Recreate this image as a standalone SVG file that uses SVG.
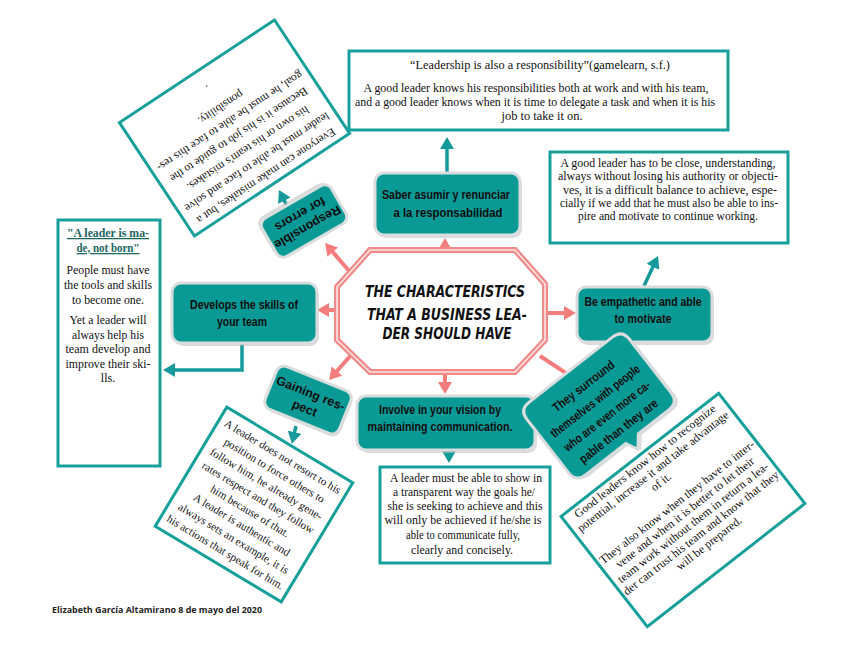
<svg xmlns="http://www.w3.org/2000/svg" width="848" height="655" viewBox="0 0 848 655">
<style>
.box{fill:#fff;stroke:#17a09b;stroke-width:3}
.node{fill:#0a9a96;stroke:#d9dddd;stroke-width:3}
.shd{fill:#bdbdbd;opacity:.55}
.s{font-family:"Liberation Serif","Times New Roman",serif;fill:#111;text-anchor:middle}
.n{font-family:"Liberation Sans",Arial,sans-serif;font-weight:bold;fill:#0d0d0d;text-anchor:middle;font-size:12.5px}
.pk{stroke:#f47c7c;stroke-width:4;fill:none}
.tl{stroke:#16999a;stroke-width:3.5;fill:none}
.oct1{fill:#fff;stroke:#f28a8a;stroke-width:6}
.oct2{fill:none;stroke:#fde4e4;stroke-width:1.6}
.ctr{font-family:"DejaVu Sans Condensed","DejaVu Sans",sans-serif;font-weight:bold;font-style:italic;font-size:15px;fill:#111;text-anchor:middle}
</style>
<defs>
<marker id="pa" markerUnits="userSpaceOnUse" viewBox="0 0 12 14" refX="8" refY="7" markerWidth="12" markerHeight="14" orient="auto"><path d="M0,0L12,7L0,14z" fill="#f47c7c"/></marker>
<marker id="ta" markerUnits="userSpaceOnUse" viewBox="0 0 12 14" refX="7" refY="7" markerWidth="12" markerHeight="14" orient="auto"><path d="M0,0L12,7L0,14z" fill="#16999a"/></marker>
</defs>
<rect width="848" height="655" fill="#fff"/>

<g id="connectors">
<path class="pk" d="M445,250L445,242" marker-end="url(#pa)"/>
<path class="pk" d="M350,272L327.6,246" marker-end="url(#pa)"/>
<path class="pk" d="M337,310L321,310" marker-end="url(#pa)"/>
<path class="pk" d="M352,354L331.7,377" marker-end="url(#pa)"/>
<path class="pk" d="M445,372L445,390" marker-end="url(#pa)"/>
<path class="pk" d="M545,313L572,313" marker-end="url(#pa)"/>
<path class="pk" d="M540,356L574.7,378.8" marker-end="url(#pa)"/>
<path class="tl" d="M447,172L447,142" marker-end="url(#ta)"/>
<path class="tl" d="M287,206L281.2,194.5" marker-end="url(#ta)"/>
<path class="tl" d="M242,344L242,370L168,370" marker-end="url(#ta)"/>
<path class="tl" d="M644,286L655.9,260.5" marker-end="url(#ta)"/>
<path class="tl" d="M296,426L293,439" marker-end="url(#ta)"/>
<path class="tl" d="M449,451L449,458" marker-end="url(#ta)"/>
</g>

<g id="center">
<polygon class="oct1" points="370,250 515,250 545,284 545,340 515,372 370,372 337,340 337,287"/>
<polygon class="oct2" points="370,250 515,250 545,284 545,340 515,372 370,372 337,340 337,287"/>
<text class="ctr" x="445" y="297" textLength="160" lengthAdjust="spacingAndGlyphs">THE CHARACTERISTICS</text>
<text class="ctr" x="447" y="320" textLength="160" lengthAdjust="spacingAndGlyphs">THAT A BUSINESS LEA-</text>
<text class="ctr" x="447" y="339" textLength="129" lengthAdjust="spacingAndGlyphs">DER SHOULD HAVE</text>
</g>

<g id="n-saber">
<rect class="shd" x="377" y="176" width="145" height="62" rx="9"/>
<rect class="node" x="375" y="173" width="145" height="62" rx="9"/>
<text class="n" x="446" y="199" textLength="128" lengthAdjust="spacingAndGlyphs">Saber asumir y renunciar</text>
<text class="n" x="448" y="217" textLength="109" lengthAdjust="spacingAndGlyphs">a la responsabilidad</text>
</g>

<g id="n-develops">
<rect class="shd" x="174" y="286" width="145" height="60" rx="9"/>
<rect class="node" x="172" y="283" width="145" height="60" rx="9"/>
<text class="n" x="244" y="309" textLength="108" lengthAdjust="spacingAndGlyphs">Develops the skills of</text>
<text class="n" x="242" y="326" textLength="50" lengthAdjust="spacingAndGlyphs">your team</text>
</g>

<g id="n-empathetic">
<rect class="shd" x="579" y="290" width="135" height="55" rx="9"/>
<rect class="node" x="577" y="287" width="135" height="55" rx="9"/>
<text class="n" x="643" y="306" textLength="117" lengthAdjust="spacingAndGlyphs">Be empathetic and able</text>
<text class="n" x="643" y="323" textLength="57" lengthAdjust="spacingAndGlyphs">to motivate</text>
</g>

<g id="n-involve">
<rect class="shd" x="359" y="399" width="178" height="54" rx="9"/>
<rect class="node" x="357" y="396" width="178" height="54" rx="9"/>
<text class="n" x="440" y="414" textLength="122" lengthAdjust="spacingAndGlyphs">Involve in your vision by</text>
<text class="n" x="440" y="431" textLength="145" lengthAdjust="spacingAndGlyphs">maintaining communication.</text>
</g>

<g id="n-responsible" transform="translate(304,221) rotate(150)">
<rect class="shd" x="-38" y="-19" width="80" height="44" rx="8"/>
<rect class="node" x="-40" y="-22" width="80" height="44" rx="8"/>
<text class="n" x="0" y="-3" font-size="12">Responsible</text>
<text class="n" x="0" y="12" font-size="12">for errors</text>
</g>

<g id="n-gaining" transform="translate(308,400) rotate(22)">
<rect class="shd" x="-38" y="-21" width="80" height="46" rx="8"/>
<rect class="node" x="-40" y="-23" width="80" height="46" rx="8"/>
<text class="n" x="0" y="-3" font-size="12">Gaining res-</text>
<text class="n" x="0" y="13" font-size="12">pect</text>
</g>

<g id="n-surround" transform="translate(599,406) rotate(-38)">
<path class="shd" transform="translate(2,3)" d="M-53,-46H53Q65,-46 65,-34V34Q65,46 53,46H14L4,58L-2,46H-53Q-65,46 -65,34V-34Q-65,-46 -53,-46Z"/>
<path class="node" d="M-53,-46H53Q65,-46 65,-34V34Q65,46 53,46H14L4,58L-2,46H-53Q-65,46 -65,34V-34Q-65,-46 -53,-46Z"/>
<text class="n" x="0" y="-21" font-size="12" textLength="75" lengthAdjust="spacingAndGlyphs">They surround</text>
<text class="n" x="0" y="-2" font-size="12" textLength="110" lengthAdjust="spacingAndGlyphs">themselves with people</text>
<text class="n" x="0" y="17" font-size="12" textLength="106" lengthAdjust="spacingAndGlyphs">who are even more ca-</text>
<text class="n" x="0" y="36" font-size="12" textLength="96" lengthAdjust="spacingAndGlyphs">pable than they are</text>
</g>

<g id="b-top">
<rect class="box" x="349" y="51" width="379" height="79"/>
<text class="s" font-size="12" x="540" y="69" textLength="260" lengthAdjust="spacingAndGlyphs">“Leadership is also a responsibility”(gamelearn, s.f.)</text>
<text class="s" font-size="12" x="536" y="92" textLength="345" lengthAdjust="spacingAndGlyphs">A good leader knows his responsibilities both at work and with his team,</text>
<text class="s" font-size="12" x="535" y="106" textLength="360" lengthAdjust="spacingAndGlyphs">and a good leader knows when it is time to delegate a task and when it is his</text>
<text class="s" font-size="12" x="542" y="120" textLength="81" lengthAdjust="spacingAndGlyphs">job to take it on.</text>
</g>

<g id="b-right">
<rect class="box" x="550" y="152" width="238" height="91"/>
<text class="s" font-size="12" x="668" y="167" textLength="215" lengthAdjust="spacingAndGlyphs">A good leader has to be close, understanding,</text>
<text class="s" font-size="12" x="668" y="180" textLength="220" lengthAdjust="spacingAndGlyphs">always without losing his authority or objecti-</text>
<text class="s" font-size="12" x="670" y="194" textLength="214" lengthAdjust="spacingAndGlyphs">ves, it is a difficult balance to achieve, espe-</text>
<text class="s" font-size="12" x="669" y="207" textLength="218" lengthAdjust="spacingAndGlyphs">cially if we add that he must also be able to ins-</text>
<text class="s" font-size="12" x="668" y="220" textLength="180" lengthAdjust="spacingAndGlyphs">pire and motivate to continue working.</text>
</g>

<g id="b-left">
<rect class="box" x="58" y="220" width="102" height="246"/>
<text class="s" font-size="12.5" font-weight="bold" style="fill:#1b6660" text-decoration="underline" x="108" y="237" textLength="82" lengthAdjust="spacingAndGlyphs">"A leader is ma-</text>
<text class="s" font-size="12.5" font-weight="bold" style="fill:#1b6660" text-decoration="underline" x="108" y="252" textLength="63" lengthAdjust="spacingAndGlyphs">de, not born"</text>
<text class="s" font-size="12" x="108" y="274" textLength="83" lengthAdjust="spacingAndGlyphs">People must have</text>
<text class="s" font-size="12" x="108" y="289" textLength="88" lengthAdjust="spacingAndGlyphs">the tools and skills</text>
<text class="s" font-size="12" x="108" y="304" textLength="72" lengthAdjust="spacingAndGlyphs">to become one.</text>
<text class="s" font-size="12" x="108" y="324" textLength="77" lengthAdjust="spacingAndGlyphs">Yet a leader will</text>
<text class="s" font-size="12" x="108" y="339" textLength="72" lengthAdjust="spacingAndGlyphs">always help his</text>
<text class="s" font-size="12" x="108" y="353" textLength="85" lengthAdjust="spacingAndGlyphs">team develop and</text>
<text class="s" font-size="12" x="108" y="368" textLength="85" lengthAdjust="spacingAndGlyphs">improve their ski-</text>
<text class="s" font-size="12" x="108" y="382">lls.</text>
</g>

<g id="b-bottom">
<rect class="box" x="380" y="467" width="170" height="96"/>
<text class="s" font-size="11.5" x="466" y="482" textLength="152" lengthAdjust="spacingAndGlyphs">A leader must be able to show in</text>
<text class="s" font-size="11.5" x="464" y="496" textLength="142" lengthAdjust="spacingAndGlyphs">a transparent way the goals he/</text>
<text class="s" font-size="11.5" x="465" y="510" textLength="155" lengthAdjust="spacingAndGlyphs">she is seeking to achieve and this</text>
<text class="s" font-size="11.5" x="463" y="524" textLength="157" lengthAdjust="spacingAndGlyphs">will only be achieved if he/she is</text>
<text class="s" font-size="11.5" x="463" y="539" textLength="114" lengthAdjust="spacingAndGlyphs">able to communicate fully,</text>
<text class="s" font-size="11.5" x="462" y="554" textLength="102" lengthAdjust="spacingAndGlyphs">clearly and concisely.</text>
</g>

<g id="b-topleft" transform="translate(234.5,128) rotate(146.5)">
<rect class="box" x="-93" y="-68" width="186" height="136"/>
<g class="s" font-size="11.6">
<text x="0" y="-53.5">Everyone can make mistakes, but a</text>
<text x="0" y="-37">leader must be able to face and solve</text>
<text x="0" y="-20.7">his own or his team's mistakes.</text>
<text x="0" y="-4.3">Because it is his job to guide to the</text>
<text x="0" y="12">goal, he must be able to face this res-</text>
<text x="0" y="28.5">ponsibility.</text>
<text x="0" y="51">.</text>
</g>
</g>

<g id="b-bottomleft" transform="translate(254,504.5) rotate(31)">
<rect class="box" x="-73.5" y="-69.5" width="147" height="139"/>
<g class="s" font-size="11.2">
<text x="0" y="-52">A leader does not resort to his</text>
<text x="0" y="-36.1">position to force others to</text>
<text x="0" y="-20.2">follow him, he already gene-</text>
<text x="0" y="-4.3">rates respect and they follow</text>
<text x="0" y="11.6">him because of that.</text>
<text x="0" y="27.5">A leader is authentic and</text>
<text x="0" y="43.4">always sets an example, it is</text>
<text x="0" y="59.3">his actions that speak for him.</text>
</g>
</g>

<g id="b-bottomright" transform="translate(683,510) rotate(-38)">
<rect class="box" x="-100" y="-70" width="200" height="140"/>
<g class="s" font-size="11.8">
<text x="0" y="-58">Good leaders know how to recognize</text>
<text x="0" y="-45">potential, increase it and take advantage</text>
<text x="0" y="-32">of it.</text>
<text x="0" y="-6">They also know when they have to inter-</text>
<text x="0" y="7">vene and when it is better to let their</text>
<text x="0" y="20">team work without them in return a lea-</text>
<text x="0" y="33">der can trust his team and know that they</text>
<text x="0" y="46">will be prepared.</text>
</g>
</g>

<text id="footer" x="52" y="613" font-family="'Open Sans','Liberation Sans',sans-serif" font-weight="bold" font-size="8.5" fill="#222" textLength="210" lengthAdjust="spacingAndGlyphs">Elizabeth García Altamirano 8 de mayo del 2020</text>
</svg>
